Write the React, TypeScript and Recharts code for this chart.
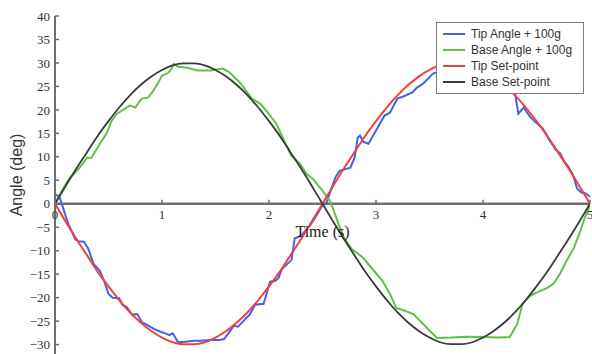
import React from "react";
import { LineChart, Line, XAxis, YAxis, ReferenceLine, Legend } from "recharts";

// set-point curves, sampled every 0.1 s
const setTimes = [
  0, 0.1, 0.2, 0.3, 0.4, 0.5, 0.6, 0.7, 0.8, 0.9, 1.0, 1.1, 1.2, 1.3, 1.4, 1.5, 1.6,
  1.7, 1.8, 1.9, 2.0, 2.1, 2.2, 2.3, 2.4, 2.5, 2.6, 2.7, 2.8, 2.9, 3.0, 3.1, 3.2, 3.3,
  3.4, 3.5, 3.6, 3.7, 3.8, 3.9, 4.0, 4.1, 4.2, 4.3, 4.4, 4.5, 4.6, 4.7, 4.8, 4.9, 5.0,
];
const baseSetpoint = [
  0, 3.8, 7.5, 11.0, 14.5, 17.6, 20.5, 23.1, 25.3, 27.1, 28.5, 29.5, 29.9, 29.9, 29.5,
  28.5, 27.1, 25.3, 23.1, 20.5, 17.6, 14.5, 11.0, 7.5, 3.8, 0, -3.8, -7.5, -11.0, -14.5,
  -17.6, -20.5, -23.1, -25.3, -27.1, -28.5, -29.5, -29.9, -29.9, -29.5, -28.5, -27.1,
  -25.3, -23.1, -20.5, -17.6, -14.5, -11.0, -7.5, -3.8, 0,
];
const tipSetpoint = [
  0, -3.8, -7.5, -11.0, -14.5, -17.6, -20.5, -23.1, -25.3, -27.1, -28.5, -29.5, -29.9,
  -29.9, -29.5, -28.5, -27.1, -25.3, -23.1, -20.5, -17.6, -14.5, -11.0, -7.5, -3.8, 0,
  3.8, 7.5, 11.0, 14.5, 17.6, 20.5, 23.1, 25.3, 27.1, 28.5, 29.5, 29.9, 29.9, 29.5, 28.5,
  27.1, 25.3, 23.1, 20.5, 17.6, 14.5, 11.0, 7.5, 3.8, 0,
];

// measured tip angle (100 g load)
const tipTimes = [
  0, 0.04, 0.07, 0.12, 0.19, 0.22, 0.27, 0.31, 0.36, 0.42, 0.46, 0.5, 0.54, 0.6, 0.63,
  0.67, 0.72, 0.77, 0.81, 0.86, 0.92, 0.98, 1.03, 1.07, 1.1, 1.15, 1.22, 1.3, 1.36, 1.45,
  1.54, 1.58, 1.62, 1.67, 1.71, 1.76, 1.82, 1.87, 1.95, 2.01, 2.06, 2.09, 2.12, 2.21,
  2.24, 2.3, 2.38, 2.43, 2.5, 2.54, 2.58, 2.62, 2.66, 2.76, 2.8, 2.83, 2.85, 2.88, 2.93,
  3.0, 3.08, 3.13, 3.2, 3.25, 3.34, 3.38, 3.44, 3.53, 3.56, 3.75, 4.0, 4.2, 4.29, 4.3,
  4.33, 4.38, 4.44, 4.5, 4.56, 4.62, 4.68, 4.72, 4.76, 4.8, 4.84, 4.88, 4.92, 4.96, 5.0,
];
const tipAngle = [
  2.0, 1.6, -0.5, -4.0, -7.6, -8.0, -8.1, -9.5, -12.8, -14.3, -16.5, -19.2, -20.0, -20.1,
  -21.5, -22.0, -23.6, -23.5, -25.2, -25.8, -26.6, -27.2, -27.6, -28.0, -27.6, -29.5,
  -29.4, -29.2, -29.2, -29.0, -29.0, -28.8, -27.6, -26.0, -26.2, -25.0, -23.6, -21.5,
  -21.3, -16.6, -16.4, -15.8, -13.9, -12.0, -7.4, -6.8, -4.7, -3.0, -0.3, 0.3, 3.0, 5.6,
  7.0, 7.7, 9.8, 14.1, 14.5, 13.2, 12.8, 15.6, 18.8, 19.4, 22.4, 22.8, 23.7, 24.7, 25.6,
  27.7, 28.0, 29.2, 28.0, 25.5, 23.6, 23.5, 19.2, 20.5, 18.5, 17.2, 16.0, 13.6, 11.5,
  10.8, 9.0, 7.8, 6.2, 3.2, 2.4, 2.2, 1.5,
];

// measured base angle (100 g load)
const baseTimes = [
  0, 0.08, 0.14, 0.23, 0.3, 0.34, 0.42, 0.48, 0.53, 0.58, 0.65, 0.7, 0.75, 0.81, 0.87,
  0.92, 0.96, 1.0, 1.06, 1.09, 1.11, 1.15, 1.23, 1.33, 1.45, 1.57, 1.63, 1.73, 1.84,
  1.92, 1.99, 2.07, 2.15, 2.21, 2.29, 2.35, 2.41, 2.5, 2.57, 2.63, 2.69, 2.77, 2.88,
  2.97, 3.06, 3.13, 3.19, 3.27, 3.35, 3.44, 3.5, 3.57, 3.7, 3.85, 4.0, 4.15, 4.25, 4.32,
  4.37, 4.44, 4.53, 4.6, 4.66, 4.72, 4.78, 4.85, 4.91, 4.95, 5.0,
];
const baseAngle = [
  0, 3.4, 5.5, 7.7, 9.8, 9.8, 12.8, 14.9, 17.7, 19.2, 20.2, 20.9, 20.5, 22.4, 22.6, 24.1,
  25.6, 27.3, 27.9, 28.8, 29.8, 29.2, 29.0, 28.4, 28.4, 28.8, 28.0, 25.8, 22.4, 21.3,
  19.4, 17.0, 13.0, 10.2, 8.5, 6.4, 5.3, 2.8, 0.6, -3.0, -6.8, -9.6, -11.5, -14.0, -16.4,
  -19.2, -22.2, -22.8, -23.5, -25.6, -27.0, -28.6, -28.5, -28.3, -28.4, -28.5, -28.4,
  -25.6, -21.3, -19.6, -18.6, -17.9, -17.0, -14.9, -12.2, -9.4, -5.8, -3.0, -0.4,
];

const xTicks = [0, 1, 2, 3, 4, 5];
const yTicks = [-30, -25, -20, -15, -10, -5, 0, 5, 10, 15, 20, 25, 30, 35, 40];
const seriesNames = ["Tip Angle + 100g", "Base Angle + 100g", "Tip Set-point", "Base Set-point"];

const setData = setTimes.map((t, i) => ({ t, tip: tipSetpoint[i], base: baseSetpoint[i] }));
const tipData = tipTimes.map((t, i) => ({ t, v: tipAngle[i] }));
const baseData = baseTimes.map((t, i) => ({ t, v: baseAngle[i] }));

const colors = ["#4262ee", "#62c048", "#f2413d", "#3a3a3a"];
const axisGrey = "#6e6e6e";
const serif = "'Liberation Serif', 'Times New Roman', serif";
const sans = "'Liberation Sans', Arial, sans-serif";

function LegendBox() {
  return (
    <div
      style={{
        background: "#fff",
        border: "1.5px solid #7a7a7a",
        padding: "3px 6px",
        width: 148,
        boxSizing: "border-box",
        fontFamily: sans,
        fontSize: 12,
        color: "#333",
      }}
    >
      {seriesNames.map((name, i) => (
        <div key={name} style={{ display: "flex", alignItems: "center", height: 16 }}>
          <span style={{ display: "inline-block", width: 22, height: 2, background: colors[i], marginRight: 6 }} />
          <span>{name}</span>
        </div>
      ))}
    </div>
  );
}

function AngleLabel(props: any) {
  const vb = props.viewBox || {};
  const cx = 16;
  const cy = vb.y + vb.height / 2 - 10;
  return (
    <text
      transform={`translate(${cx},${cy}) rotate(-90)`}
      textAnchor="middle"
      dominantBaseline="central"
      fontFamily={sans}
      fontSize={16}
      fill="#333"
    >
      Angle (deg)
    </text>
  );
}

export default function App() {
  return (
    <div style={{ position: "absolute", left: 0, top: 0 }}>
      <LineChart width={592} height={354} margin={{ top: 16, right: 2, left: 0, bottom: 0 }}>
        <XAxis type="number" dataKey="t" domain={[0, 5]} ticks={xTicks} allowDataOverflow hide />
        <YAxis
          type="number"
          domain={[-32, 40]}
          ticks={yTicks}
          interval={0}
          allowDataOverflow
          width={55}
          tickSize={-4}
          tickMargin={9}
          tickFormatter={(v: number) => String(v).replace("-", "\u2212")}
          tick={{ fill: "#333", fontSize: 13, fontFamily: serif }}
          axisLine={{ stroke: axisGrey, strokeWidth: 2 }}
          tickLine={{ stroke: axisGrey, strokeWidth: 1.5 }}
          label={<AngleLabel />}
        />
        <ReferenceLine
          y={0}
          stroke={axisGrey}
          strokeWidth={2.5}
          label={{ value: "Time (s)", position: "bottom", offset: 22, fill: "#222", fontSize: 16, fontFamily: serif }}
        />
        {xTicks.map((t) => (
          <ReferenceLine
            key={t}
            segment={[{ x: t, y: 0 }, { x: t, y: 0.85 }]}
            stroke={axisGrey}
            strokeWidth={1.5}
            label={{ value: String(t), position: "bottom", offset: 6, fill: "#333", fontSize: 13, fontFamily: serif }}
          />
        ))}
        <Line data={tipData} dataKey="v" name={seriesNames[0]} type="linear" stroke={colors[0]} strokeWidth={2} dot={false} isAnimationActive={false} />
        <Line data={baseData} dataKey="v" name={seriesNames[1]} type="linear" stroke={colors[1]} strokeWidth={2} dot={false} isAnimationActive={false} />
        <Line data={setData} dataKey="tip" name={seriesNames[2]} type="monotone" stroke={colors[2]} strokeWidth={2} dot={false} isAnimationActive={false} />
        <Line data={setData} dataKey="base" name={seriesNames[3]} type="monotone" stroke={colors[3]} strokeWidth={1.8} dot={false} isAnimationActive={false} />
        <Legend
          layout="vertical"
          align="center"
          verticalAlign="middle"
          content={<LegendBox />}
          wrapperStyle={{ top: 22, left: 436, width: 148, bottom: "auto", right: "auto" }}
        />
      </LineChart>
    </div>
  );
}
